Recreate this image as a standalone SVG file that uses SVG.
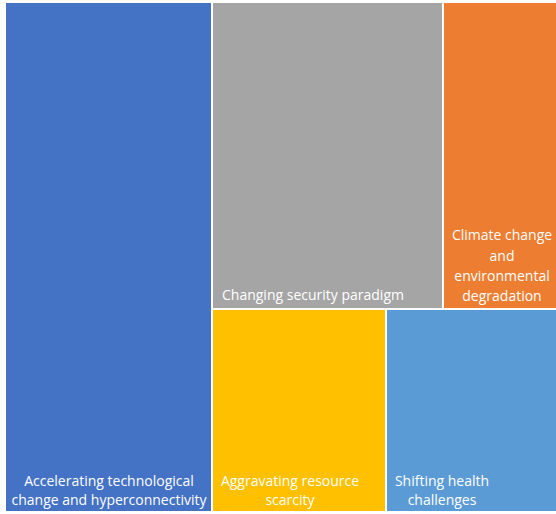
<svg xmlns="http://www.w3.org/2000/svg" width="556" height="514" viewBox="0 0 556 514">
<style>
text{font-family:"Open Sans","Liberation Sans",sans-serif;font-size:14px;fill:#fff;text-anchor:middle}
.r{stroke:none}
</style>
<rect width="556" height="514" fill="#fff"/>
<g id="tech"><rect class="r" x="6" y="3" width="205" height="508" fill="#4472C4"/>
<text x="109" y="486">Accelerating technological</text><text x="109" y="505">change and hyperconnectivity</text></g>
<g id="security"><rect class="r" x="213" y="3" width="229" height="305" fill="#A5A5A5"/>
<text x="222" y="300" style="text-anchor:start">Changing security paradigm</text></g>
<g id="climate"><rect class="r" x="444" y="3" width="112" height="305" fill="#ED7D31"/>
<text x="502" y="240">Climate change</text><text x="502" y="260.5">and</text><text x="502" y="281">environmental</text><text x="502" y="301">degradation</text></g>
<g id="resource"><rect class="r" x="213" y="310" width="172" height="201" fill="#FFC000"/>
<text x="290" y="486">Aggravating resource</text><text x="290" y="505">scarcity</text></g>
<g id="health"><rect class="r" x="387" y="310" width="169" height="201" fill="#5B9BD5"/>
<text x="442" y="486">Shifting health</text><text x="442" y="505">challenges</text></g>
<g id="connectors"/>
</svg>
